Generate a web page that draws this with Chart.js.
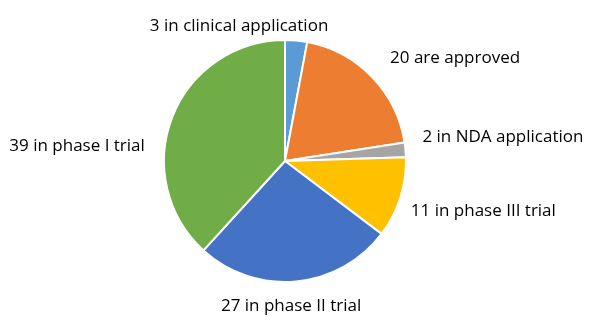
<!DOCTYPE html>
<html>
<head>
<meta charset="utf-8">
<script src="https://cdn.jsdelivr.net/npm/chart.js@4.4.0/dist/chart.umd.min.js"></script>
<style>
  html, body { margin: 0; padding: 0; background: #fff; }
  #wrap { width: 590px; height: 327px; }
</style>
</head>
<body>
<div id="wrap"><canvas id="pie"></canvas></div>
<script>
const labels = ['3 in clinical application', '20 are approved', '2 in NDA application',
                '11 in phase III trial', '27 in phase II trial', '39 in phase I trial'];
const counts = [3, 20, 2, 11, 27, 39];
const colors = ['#5B9BD5', '#ED7D31', '#A5A5A5', '#FFC000', '#4472C4', '#70AD47'];

// small shifts so labels sit where the original put them
const labelNudge = [[-58, -4], [11, -12], [7, -12], [1, 10], [-6, 15], [-18, 32]];

// draw the labels outside each slice
const outsideLabels = {
  id: 'outsideLabels',
  afterDatasetsDraw(chart) {
    const ctx = chart.ctx;
    const meta = chart.getDatasetMeta(0);
    ctx.save();
    ctx.font = '17px "Open Sans", sans-serif';
    ctx.fillStyle = '#000';
    ctx.textBaseline = 'middle';
    meta.data.forEach((arc, i) => {
      const mid = (arc.startAngle + arc.endAngle) / 2;
      const r = arc.outerRadius + 10;
      const s = Math.cos(mid), c = Math.sin(mid);
      let x = arc.x + r * s + labelNudge[i][0];
      let y = arc.y + r * c + labelNudge[i][1];
      if (s > 0.3) ctx.textAlign = 'left';
      else if (s < -0.3) ctx.textAlign = 'right';
      else ctx.textAlign = 'center';
      ctx.fillText(chart.data.labels[i], x, y);
    });
    ctx.restore();
  }
};

new Chart(document.getElementById('pie'), {
  type: 'pie',
  data: {
    labels: labels,
    datasets: [{
      data: counts,
      backgroundColor: colors,
      borderColor: '#fff',
      borderWidth: 2
    }]
  },
  options: {
    responsive: true,
    maintainAspectRatio: false,
    animation: false,
    layout: { padding: { left: 0, right: 20, top: 39, bottom: 44 } },
    plugins: {
      legend: { display: false },
      tooltip: { enabled: false }
    }
  },
  plugins: [outsideLabels]
});
</script>
</body>
</html>
